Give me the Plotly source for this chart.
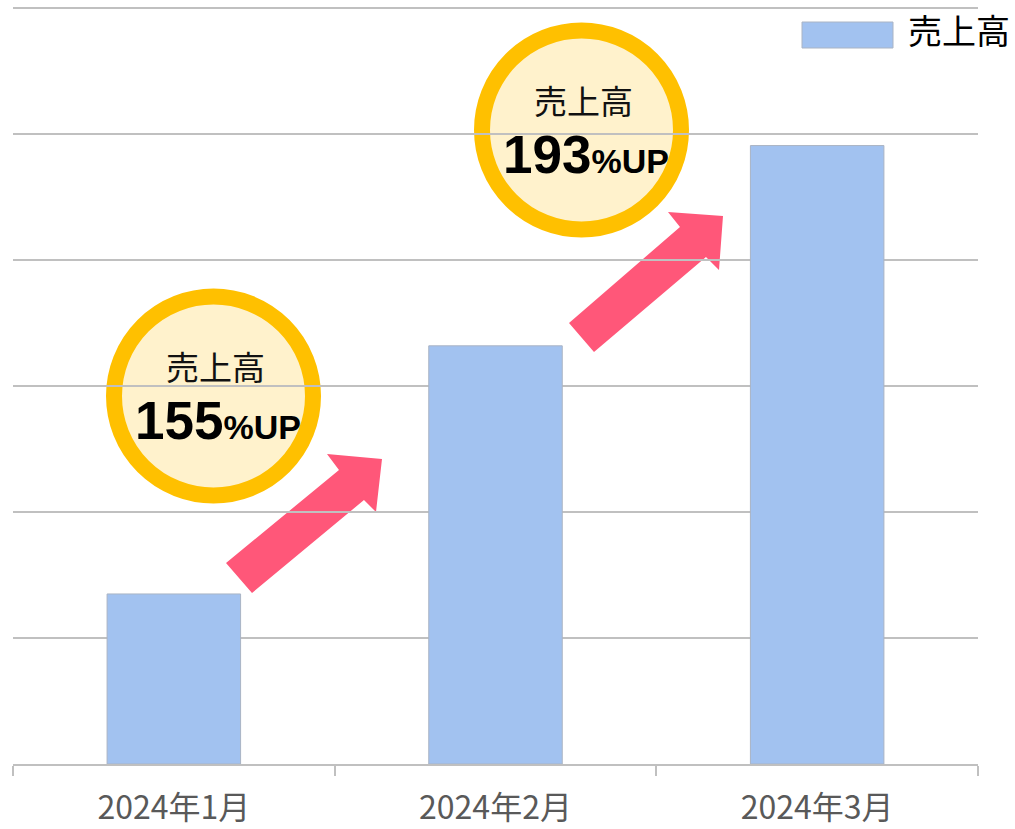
import plotly.graph_objects as go

# Monthly sales data
categories = ["2024年1月", "2024年2月", "2024年3月"]
sales = [135, 332, 491]
series_name = "売上高"

# Growth callouts
growth_labels = ["155", "193"]

W, H = 1015, 829
L, R, T, B = 13, 37, 7, 65
PW, PH = W - L - R, H - T - B
Y_MAX = 601


def px(x):
    return (x - L) / PW


def py(y):
    return (H - B - y) / PH


BAR_COLOR = "#A2C2F0"
ARROW_COLOR = "#FF5779"
RING_COLOR = "#FFC000"
DISC_COLOR = "#FFF2CC"
GRID = "#C0C0C0"

fig = go.Figure()
fig.add_trace(go.Bar(
    x=categories, y=sales, name=series_name,
    marker=dict(color=BAR_COLOR, line=dict(color="#AAB4C4", width=1)),
    width=0.415, showlegend=False,
))

shapes = []
annotations = []

# Arrows between bars
arrow_polys = [
    [(226, 563), (252, 593), (364, 500), (376, 512), (382, 459), (327, 454), (339, 470)],
    [(569, 323), (594, 352), (706, 257), (719, 270), (723, 216), (668, 212), (680, 227)],
]
for poly in arrow_polys:
    path = "M " + " L ".join(f"{px(x):.5f},{py(y):.5f}" for x, y in poly) + " Z"
    shapes.append(dict(type="path", xref="paper", yref="paper", path=path,
                       fillcolor=ARROW_COLOR, line=dict(width=0), layer="below"))

# Circular callouts
circles = [(213.5, 396), (581.5, 130)]
r = 99.5
for (cx, cy), g in zip(circles, growth_labels):
    shapes.append(dict(type="circle", xref="paper", yref="paper",
                       x0=px(cx - r), x1=px(cx + r), y0=py(cy + r), y1=py(cy - r),
                       fillcolor=DISC_COLOR, line=dict(color=RING_COLOR, width=16),
                       layer="below"))
    annotations.append(dict(xref="paper", yref="paper", x=px(cx + 1.5), y=py(cy - 30),
                            text=series_name, showarrow=False,
                            font=dict(family="Noto Sans CJK JP", size=33, color="#111111"),
                            xanchor="center", yanchor="middle"))
    annotations.append(dict(xref="paper", yref="paper", x=px(cx + 4), y=py(cy + 24),
                            text=(f"<b><span style='font-size:53px'>{g}</span>"
                                  f"<span style='font-size:34px'>%UP</span></b>"),
                            showarrow=False,
                            font=dict(family="Liberation Sans, Arial", size=34, color="#000000"),
                            xanchor="center", yanchor="middle"))

# Legend swatch and label
shapes.append(dict(type="rect", xref="paper", yref="paper",
                   x0=px(802), x1=px(893), y0=py(48), y1=py(22),
                   fillcolor=BAR_COLOR, line=dict(color="#AAB4C4", width=1)))
annotations.append(dict(xref="paper", yref="paper", x=px(906), y=py(29),
                        text=series_name, showarrow=False,
                        font=dict(family="Noto Sans CJK JP", size=34, color="#000000"),
                        xanchor="left", yanchor="middle"))

fig.update_layout(
    width=W, height=H,
    margin=dict(l=L, r=R, t=T, b=B, pad=0, autoexpand=False),
    paper_bgcolor="white", plot_bgcolor="rgba(0,0,0,0)",
    shapes=shapes, annotations=annotations,
    bargap=0.58,
    xaxis=dict(
        automargin=False,
        showline=True, linecolor=GRID, linewidth=2,
        ticks="outside", tickson="boundaries", ticklen=10, tickwidth=2, tickcolor=GRID,
        showgrid=False, ticklabelstandoff=15,
        tickfont=dict(family="Noto Sans CJK JP", size=32, color="#595959"),
    ),
    yaxis=dict(
        automargin=False,
        range=[0, Y_MAX], tick0=0, dtick=100, showticklabels=False,
        showgrid=True, gridcolor=GRID, gridwidth=2, zeroline=False, showline=False,
    ),
)

fig.write_html("out.html")
